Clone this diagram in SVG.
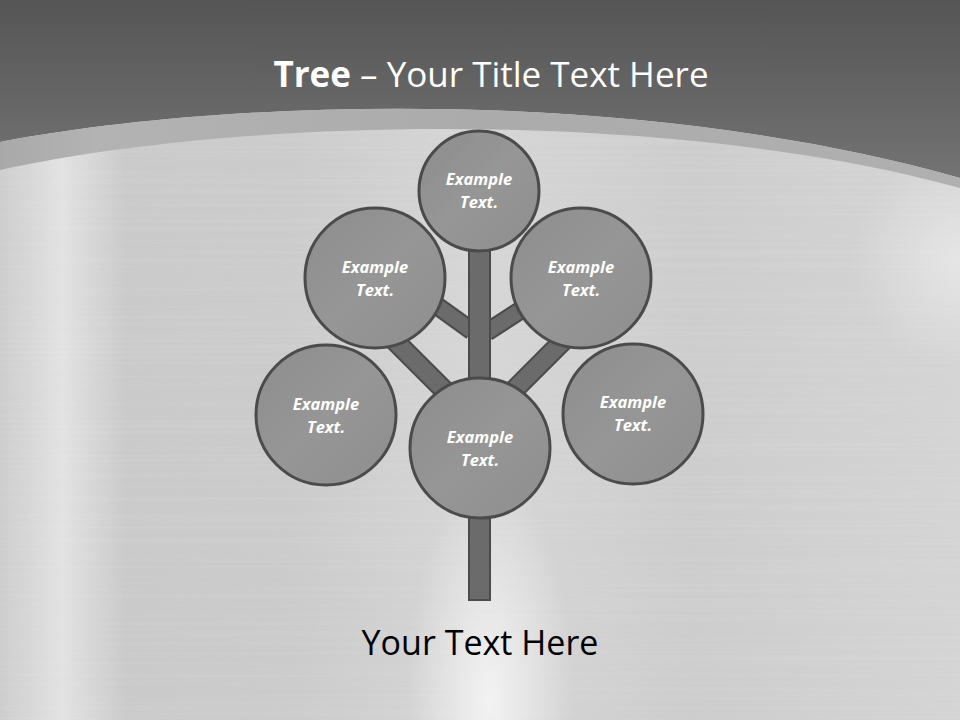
<svg xmlns="http://www.w3.org/2000/svg" width="960" height="720" viewBox="0 0 960 720">
<defs>
<linearGradient id="bgLight" x1="0" y1="0" x2="1" y2="0">
<stop offset="0" stop-color="#cdcdcd"/>
<stop offset="0.065" stop-color="#e2e2e2"/>
<stop offset="0.13" stop-color="#cacaca"/>
<stop offset="0.3" stop-color="#cbcbcb"/>
<stop offset="0.5" stop-color="#d6d6d6"/>
<stop offset="0.72" stop-color="#cdcdcd"/>
<stop offset="1" stop-color="#d4d4d4"/>
</linearGradient>
<radialGradient id="glowBottom" cx="490" cy="700" r="140" gradientUnits="userSpaceOnUse" gradientTransform="translate(490 700) scale(0.6 1.6) translate(-490 -700)">
<stop offset="0" stop-color="#ffffff" stop-opacity="0.7"/>
<stop offset="1" stop-color="#ffffff" stop-opacity="0"/>
</radialGradient>
<radialGradient id="glowRight" cx="960" cy="260" r="110" gradientUnits="userSpaceOnUse">
<stop offset="0" stop-color="#ffffff" stop-opacity="0.4"/>
<stop offset="1" stop-color="#ffffff" stop-opacity="0"/>
</radialGradient>
<linearGradient id="bgDark" x1="0" y1="0" x2="0" y2="1">
<stop offset="0" stop-color="#555555"/>
<stop offset="1" stop-color="#737373"/>
</linearGradient>
<linearGradient id="band" x1="0" y1="0" x2="1" y2="0">
<stop offset="0" stop-color="#a9a9a9"/>
<stop offset="0.1" stop-color="#b3b3b3"/>
<stop offset="0.5" stop-color="#ababab"/>
<stop offset="1" stop-color="#b0b0b0"/>
</linearGradient>
<linearGradient id="circ" x1="0" y1="0" x2="1" y2="1">
<stop offset="0" stop-color="#8d8d8d"/>
<stop offset="0.5" stop-color="#969696"/>
<stop offset="1" stop-color="#8e8e8e"/>
</linearGradient>
<filter id="brush" x="0" y="0" width="1" height="1">
<feTurbulence type="fractalNoise" baseFrequency="0.002 0.35" numOctaves="2" seed="3" result="n"/>
<feColorMatrix type="matrix" values="0 0 0 0 1  0 0 0 0 1  0 0 0 0 1  0 0 0.5 0 -0.2"/>
</filter>
<style>
.node circle{fill:url(#circ);stroke:#4b4b4b;stroke-width:3}
.node text{font-family:"Open Sans","Liberation Sans",sans-serif;font-weight:bold;font-style:italic;font-size:16.5px;fill:#ffffff;text-anchor:middle}
.branch{fill:none;stroke:#4b4b4b;stroke-linecap:butt}
.branchIn{fill:none;stroke:#6b6b6b;stroke-linecap:butt}
</style>
</defs>

<rect x="0" y="0" width="960" height="720" fill="url(#bgLight)"/>
<rect x="0" y="0" width="960" height="720" filter="url(#brush)" opacity="0.35"/>
<rect x="0" y="400" width="960" height="320" fill="url(#glowBottom)"/>
<rect x="820" y="150" width="140" height="220" fill="url(#glowRight)"/>

<path d="M0 0 H960 V178 C650 90 250 95 0 142 Z" fill="url(#bgDark)"/>
<path d="M0 142 C250 95 650 90 960 178 V188 C680 110 250 115 0 170 Z" fill="url(#band)"/>

<text x="491" y="87" text-anchor="middle" font-family="'Open Sans','Liberation Sans',sans-serif" font-size="35" fill="#ffffff"><tspan font-weight="bold">Tree</tspan> – Your Title Text Here</text>

<g id="connectors">
<path class="branch" d="M415 290 L472 331" stroke-width="19"/>
<path class="branchIn" d="M415 290 L472 331" stroke-width="15"/>
<path class="branch" d="M544 295 L487 332" stroke-width="19"/>
<path class="branchIn" d="M544 295 L487 332" stroke-width="15"/>
<path class="branch" d="M392 338 L452 398" stroke-width="21"/>
<path class="branchIn" d="M392 338 L452 398" stroke-width="17"/>
<path class="branch" d="M566 338 L506 398" stroke-width="21"/>
<path class="branchIn" d="M566 338 L506 398" stroke-width="17"/>
<rect x="469" y="250" width="21" height="350" fill="#6b6b6b" stroke="#4b4b4b" stroke-width="2"/>
</g>

<g id="node-top" class="node"><circle cx="479" cy="191" r="60"/><text x="479" y="185">Example</text><text x="479" y="208">Text.</text></g>
<g id="node-upper-left" class="node"><circle cx="375" cy="278" r="70"/><text x="375" y="273">Example</text><text x="375" y="296">Text.</text></g>
<g id="node-upper-right" class="node"><circle cx="581" cy="278" r="70"/><text x="581" y="273">Example</text><text x="581" y="296">Text.</text></g>
<g id="node-lower-left" class="node"><circle cx="326" cy="415" r="70"/><text x="326" y="410">Example</text><text x="326" y="433">Text.</text></g>
<g id="node-lower-right" class="node"><circle cx="633" cy="414" r="70"/><text x="633" y="408">Example</text><text x="633" y="431">Text.</text></g>
<g id="node-center" class="node"><circle cx="480" cy="448" r="70"/><text x="480" y="443">Example</text><text x="480" y="466">Text.</text></g>

<text x="480" y="655" text-anchor="middle" font-family="'Open Sans','Liberation Sans',sans-serif" font-size="34" fill="#000000">Your Text Here</text>
</svg>
